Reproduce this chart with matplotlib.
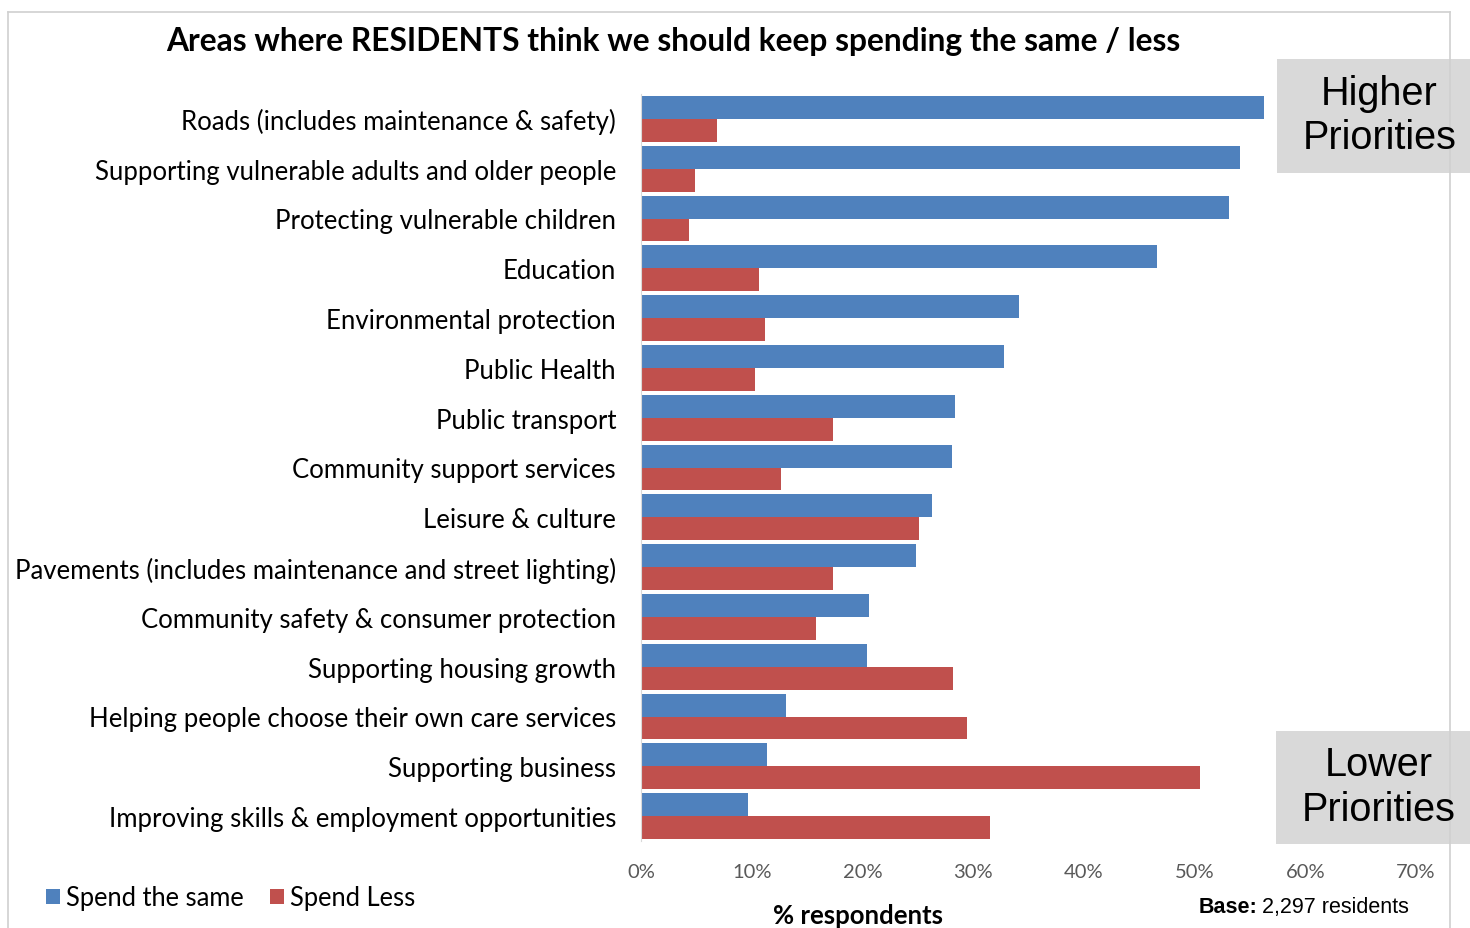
import matplotlib
matplotlib.use("Agg")
import matplotlib.pyplot as plt
from matplotlib.patches import Rectangle
import numpy as np

categories = [
    "Roads (includes maintenance & safety)",
    "Supporting vulnerable adults and older people",
    "Protecting vulnerable children",
    "Education",
    "Environmental protection",
    "Public Health",
    "Public transport",
    "Community support services",
    "Leisure & culture",
    "Pavements (includes maintenance and street lighting)",
    "Community safety & consumer protection",
    "Supporting housing growth",
    "Helping people choose their own care services",
    "Supporting business",
    "Improving skills & employment opportunities",
]
spend_same = [56.3, 54.1, 53.1, 46.6, 34.1, 32.8, 28.4, 28.1, 26.3, 24.8, 20.6, 20.4, 13.1, 11.4, 9.7]
spend_less = [6.9, 4.9, 4.3, 10.7, 11.2, 10.3, 17.3, 12.6, 25.1, 17.3, 15.8, 28.2, 29.4, 50.5, 31.5]
xticks = [0, 10, 20, 30, 40, 50, 60, 70]
xtick_labels = [f"{t}%" for t in xticks]

BLUE = "#4F81BD"
RED = "#C0504D"
FONT = "Lato"

W, H = 1470, 929
fig = plt.figure(figsize=(W / 100, H / 100), dpi=100)

def fx(px):
    return px / W

def fy(py):
    return 1 - py / H

# outer frame
fig.add_artist(plt.Line2D([fx(8), fx(8)], [fy(13), 0], color="#D0D0D0", lw=1.2, transform=fig.transFigure))
fig.add_artist(plt.Line2D([fx(8), fx(1450)], [fy(13), fy(13)], color="#D0D0D0", lw=1.2, transform=fig.transFigure))
fig.add_artist(plt.Line2D([fx(1450), fx(1450)], [fy(13), 0], color="#D0D0D0", lw=1.2, transform=fig.transFigure))

ax = fig.add_axes([fx(641), fy(842), fx(1416) - fx(641), fy(95) - fy(842)])
n = len(categories)
y = np.arange(n)
h = 0.46
ax.barh(y - h / 2, spend_same, height=h, color=BLUE, label="Spend the same")
ax.barh(y + h / 2, spend_less, height=h, color=RED, label="Spend Less")
ax.set_ylim(n - 0.5, -0.5)
ax.set_xlim(0, 70)
ax.set_xticks(xticks)
ax.set_xticklabels(xtick_labels, fontsize=14.5, color="#595959", family=FONT)
ax.set_yticks(y)
ax.set_yticklabels(categories, fontsize=18.5, color="#000000", family=FONT)
ax.tick_params(axis="both", length=0)
ax.tick_params(axis="y", pad=18)
ax.tick_params(axis="x", pad=16)
for s in ["top", "right", "bottom"]:
    ax.spines[s].set_visible(False)
ax.spines["left"].set_color("#D9D9D9")

fig.text(fx(858), fy(916), "% respondents", ha="center", va="center",
         fontsize=18.5, fontweight="bold", family=FONT)

fig.text(fx(673), fy(41), "Areas where RESIDENTS think we should keep spending the same / less",
         ha="center", va="center", fontsize=22.9, fontweight="bold", family=FONT)

# priority boxes
for (x0, y0, x1, y1, txt) in [(1277, 60, 1470, 174, "Higher\nPriorities"),
                              (1276, 732, 1470, 845, "Lower\nPriorities")]:
    fig.add_artist(Rectangle((fx(x0), fy(y1)), fx(x1) - fx(x0), fy(y0) - fy(y1),
                             facecolor="#D9D9D9", edgecolor="none", transform=fig.transFigure))
    fig.text(fx((x0 + x1) / 2 + 6), fy((y0 + y1) / 2 - 1), txt, ha="center", va="center",
             fontsize=28.5, family="Liberation Sans", linespacing=1.22)

# legend
leg = fig.legend(loc="center left", bbox_to_anchor=(fx(46), fy(899)), ncol=2, frameon=False,
                 prop={"family": FONT, "size": 18.4}, handlelength=0.55, handleheight=0.55,
                 handletextpad=0.25, columnspacing=1.0, borderaxespad=0, borderpad=0)

# base note
t1 = fig.text(fx(1199), fy(908), "Base:", ha="left", va="center", fontsize=15.5,
              fontweight="bold", family="Liberation Sans")
fig.canvas.draw()
bb = t1.get_window_extent()
fig.text(bb.x1 / W + 0.003, fy(908), "2,297 residents", ha="left", va="center", fontsize=15.5,
         family="Liberation Sans")

fig.savefig("out.png", dpi=100)
